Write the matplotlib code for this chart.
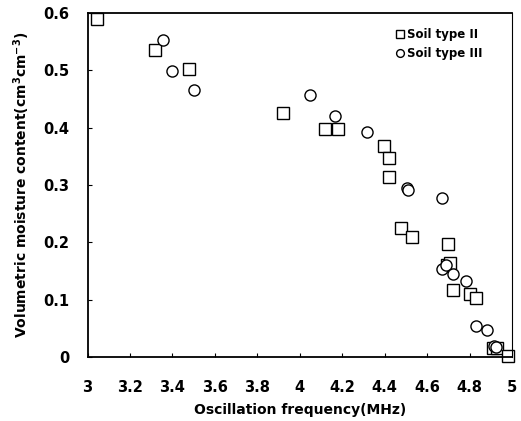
import numpy as np
import matplotlib.pyplot as plt

# Soil type II (squares)
freq_II = [3.045, 3.32, 3.48, 3.92, 4.12, 4.18, 4.395, 4.42, 4.42, 4.475, 4.53,
           4.70, 4.695, 4.705, 4.72, 4.80, 4.83, 4.91, 4.93, 4.98]
theta_II = [0.589, 0.535, 0.502, 0.425, 0.397, 0.397, 0.368, 0.347, 0.314, 0.225, 0.209,
            0.197, 0.161, 0.165, 0.117, 0.111, 0.104, 0.016, 0.016, 0.002]

# Soil type III (circles)
freq_III = [3.355, 3.40, 3.50, 4.05, 4.165, 4.315, 4.505, 4.51, 4.67, 4.67, 4.69,
            4.72, 4.785, 4.83, 4.88, 4.915, 4.925]
theta_III = [0.552, 0.499, 0.465, 0.457, 0.420, 0.393, 0.294, 0.292, 0.277, 0.154, 0.160,
             0.145, 0.133, 0.054, 0.048, 0.020, 0.018]

xticks = [3, 3.2, 3.4, 3.6, 3.8, 4, 4.2, 4.4, 4.6, 4.8, 5]
yticks = [0, 0.1, 0.2, 0.3, 0.4, 0.5, 0.6]

fig = plt.figure(figsize=(5.21, 4.21), dpi=100)
ax = fig.add_axes([0.168, 0.151, 0.815, 0.819])

ax.plot(freq_II, theta_II, 's', ms=8.5, mfc='white', mec='black', mew=1.0,
        label='Soil type II', clip_on=False)
ax.plot(freq_III, theta_III, 'o', ms=8, mfc='white', mec='black', mew=1.0,
        label='Soil type III', clip_on=False)

ax.set_xlim(3, 5)
ax.set_ylim(0, 0.6)
ax.set_xticks(xticks)
ax.set_xticklabels([f"{t:g}" for t in xticks])
ax.set_yticks(yticks)
ax.set_yticklabels([f"{t:g}" for t in yticks])
ax.tick_params(direction='in', length=3, width=0.8, labelsize=10.5)
ax.tick_params(axis='x', pad=16)
ax.tick_params(axis='y', pad=13)
for lab in ax.get_xticklabels() + ax.get_yticklabels():
    lab.set_fontweight('bold')

for side in ['left', 'bottom', 'top']:
    ax.spines[side].set_linewidth(1.3)
ax.spines['right'].set_linewidth(0.8)

ax.set_xlabel("Oscillation frequency(MHz)", fontsize=10, fontweight='bold', labelpad=6)
ax.set_ylabel(r"Volumetric moisture content(cm$^\mathbf{3}$cm$^\mathbf{-3}$)",
              fontsize=10, fontweight='bold', labelpad=8)

leg = ax.legend(loc='upper right', bbox_to_anchor=(0.955, 0.985), frameon=False,
                handletextpad=0.1, handlelength=1.0, markerscale=0.7,
                prop={'weight': 'bold', 'size': 8.5}, labelspacing=0.5)

fig.savefig("out.png", dpi=100)
